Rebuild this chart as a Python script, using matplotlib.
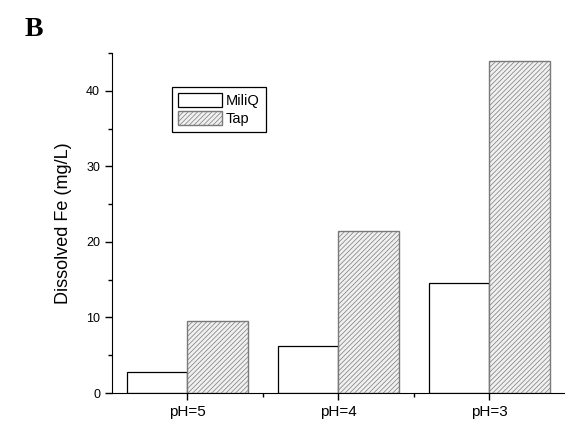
import numpy as np
import matplotlib
matplotlib.use("Agg")
from matplotlib import pyplot as plt
from matplotlib.ticker import MultipleLocator, FixedLocator

# values
labels = ['pH=5', 'pH=4', 'pH=3']
miliq = [2.8, 6.2, 14.6]
tap = [9.5, 21.4, 44.0]

plt.rcParams['font.family'] = ['Liberation Sans', 'DejaVu Sans']
plt.rcParams['hatch.linewidth'] = 0.5

fig = plt.figure(figsize=(5.65, 4.24), dpi=100)
ax = fig.add_axes([0.198, 0.073, 0.802, 0.802])

x = np.arange(1, len(labels) + 1)
w = 0.4
ax.bar(x - w / 2, miliq, w, color='white', edgecolor='black', linewidth=0.9, label='MiliQ')
ax.bar(x + w / 2, tap, w, color='#f0f0f0', edgecolor='#7a7a7a', hatch='///////',
       linewidth=1.0, label='Tap')

ax.set_xlim(0.5, 3.5)
ax.set_ylim(0, 45)
ax.set_xticks(x)
ax.set_xticklabels(labels, fontsize=11)
ax.xaxis.set_minor_locator(FixedLocator([1.5, 2.5]))
ax.yaxis.set_major_locator(MultipleLocator(10))
ax.yaxis.set_minor_locator(MultipleLocator(5))
ax.tick_params(axis='y', labelsize=9)
ax.tick_params(which='major', direction='out', length=5, width=1)
ax.tick_params(which='minor', direction='out', length=3, width=1)
ax.spines['top'].set_visible(False)
ax.spines['right'].set_visible(False)
ax.set_ylabel('Dissolved Fe (mg/L)', fontsize=13, labelpad=10)

leg = ax.legend(loc='upper left', bbox_to_anchor=(172 / 565, 1 - 87 / 424),
                bbox_transform=fig.transFigure, borderaxespad=0, fontsize=10.5,
                fancybox=False, edgecolor='black', framealpha=1, handlelength=3.0,
                handleheight=1.1, borderpad=0.4, labelspacing=0.25, handletextpad=0.3)
leg.get_frame().set_linewidth(0.9)

fig.text(25 / 565, 1 - 30 / 424, 'B', fontsize=20, fontweight='bold',
         family='Liberation Serif', va='center', ha='left')

fig.savefig('out.png', dpi=100)
